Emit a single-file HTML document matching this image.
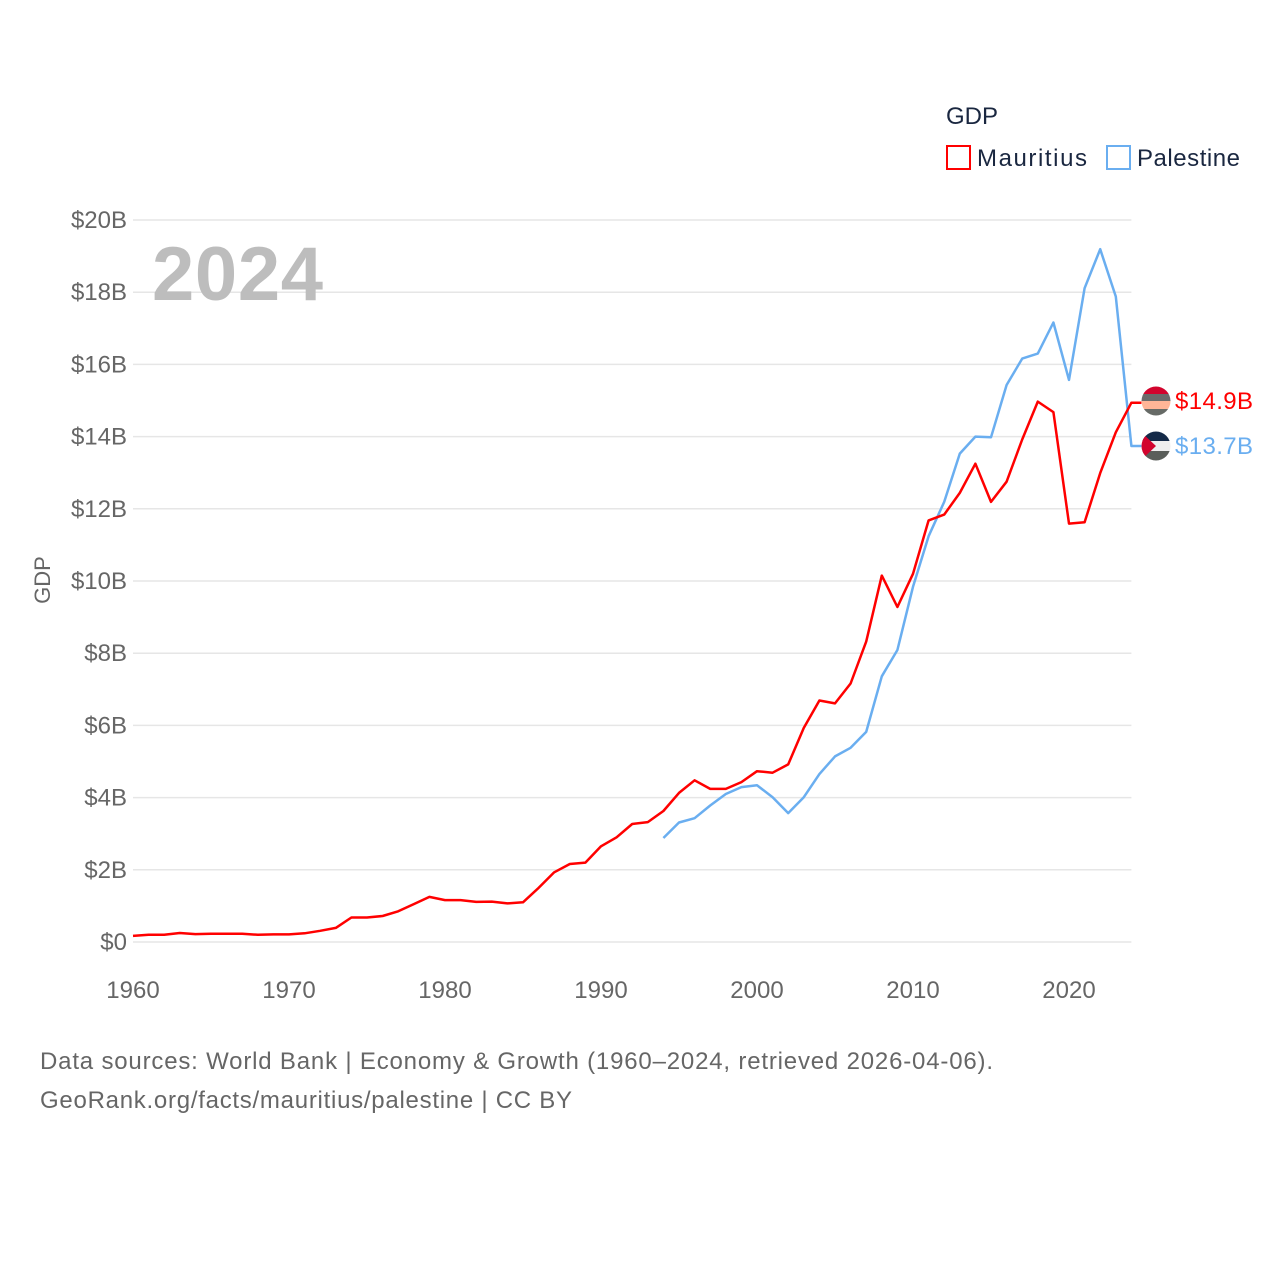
<!DOCTYPE html>
<html><head><meta charset="utf-8">
<style>
body{margin:0;background:#fff;}
svg text{font-family:"Liberation Sans",sans-serif;}
</style></head>
<body>
<svg id="chart" width="1280" height="1280" xmlns="http://www.w3.org/2000/svg">
<rect width="1280" height="1280" fill="#fff"/>
<g id="grid"></g>
<g id="yticks"></g>
<g id="xticks"></g>
<text x="152" y="300" font-size="76" font-weight="bold" fill="#bdbdbd" textLength="171">2024</text>
<text transform="translate(50,580) rotate(-90)" text-anchor="middle" font-size="22" fill="#666">GDP</text>
<g id="series"></g>
<g>
<text x="946" y="124" font-size="24" fill="#1a2740">GDP</text>
<rect x="947" y="146" width="23" height="23" fill="#fff" stroke="#ff0000" stroke-width="2"/>
<text x="977" y="166" font-size="24" fill="#1a2740" textLength="110">Mauritius</text>
<rect x="1107" y="146" width="23" height="23" fill="#fff" stroke="#6aaef0" stroke-width="2"/>
<text x="1137" y="166" font-size="24" fill="#1a2740" textLength="103">Palestine</text>
</g>
<g>
<clipPath id="c1"><circle cx="1156" cy="401" r="14.5"/></clipPath>
<g clip-path="url(#c1)">
<rect x="1140" y="386" width="32" height="8" fill="#d2042d"/>
<rect x="1140" y="394" width="32" height="7" fill="#6a6a6a"/>
<rect x="1140" y="401" width="32" height="8" fill="#ffb597"/>
<rect x="1140" y="409" width="32" height="8" fill="#666a66"/>
</g></g>
<g>
<clipPath id="c2"><circle cx="1156" cy="446" r="14.5"/></clipPath>
<g clip-path="url(#c2)">
<rect x="1140" y="431" width="32" height="10" fill="#142a48"/>
<rect x="1140" y="441" width="32" height="10" fill="#eeeeee"/>
<rect x="1140" y="451" width="32" height="11" fill="#5a5e5a"/>
<polygon points="1140,431 1156,446 1140,461" fill="#d2042d"/>
</g></g>
<text x="1175" y="409" font-size="24" fill="#ff0000" textLength="78">$14.9B</text>
<text x="1175" y="454" font-size="24" fill="#6aaef0" textLength="78">$13.7B</text>
<text x="40" y="1069" font-size="24" fill="#666" textLength="953">Data sources: World Bank | Economy &amp; Growth (1960–2024, retrieved 2026-04-06).</text>
<text x="40" y="1108" font-size="24" fill="#666" textLength="532">GeoRank.org/facts/mauritius/palestine | CC BY</text>
</svg>
<script>
const yTicks=[0,2,4,6,8,10,12,14,16,18,20];
const yTickLabels=["$0","$2B","$4B","$6B","$8B","$10B","$12B","$14B","$16B","$18B","$20B"];
const xTicks=[1960,1970,1980,1990,2000,2010,2020];
const mauritiusStart=1960;
const mauritius=[0.17,0.2,0.2,0.25,0.22,0.23,0.23,0.23,0.2,0.21,0.21,0.24,0.31,0.39,0.68,0.68,0.72,0.85,1.05,1.25,1.16,1.16,1.11,1.12,1.07,1.1,1.5,1.93,2.16,2.2,2.65,2.9,3.27,3.32,3.63,4.13,4.48,4.24,4.24,4.43,4.73,4.69,4.92,5.93,6.69,6.61,7.16,8.32,10.15,9.28,10.2,11.68,11.84,12.44,13.25,12.19,12.75,13.92,14.97,14.68,11.59,11.63,12.99,14.12,14.94];
const palestineStart=1994;
const palestine=[2.88,3.31,3.43,3.78,4.1,4.29,4.34,4.01,3.57,4.01,4.65,5.14,5.38,5.82,7.36,8.09,9.84,11.24,12.19,13.53,14.0,13.98,15.43,16.16,16.3,17.16,15.57,18.11,19.19,17.88,13.74];
const X0=133,X1=1131.4,Y0=942,Y1=220;
const xs=yr=>X0+(yr-1960)*(X1-X0)/64;
const ys=v=>Y0-v*(Y0-Y1)/20;
const NS="http://www.w3.org/2000/svg";
function mk(tag,attrs,parent){const e=document.createElementNS(NS,tag);for(const k in attrs)e.setAttribute(k,attrs[k]);parent.appendChild(e);return e;}
const grid=document.getElementById('grid'),yt=document.getElementById('yticks'),xt=document.getElementById('xticks'),ser=document.getElementById('series');
yTicks.forEach((v,i)=>{
  const l=mk('line',{x1:X0,x2:X1,y1:ys(v),y2:ys(v),stroke:'#e6e6e6','stroke-width':1.5},grid);
  
  
  const t=mk('text',{x:127,y:ys(v)+8,'text-anchor':'end','font-size':24,fill:'#666'},yt);
  
  
  t.textContent=yTickLabels[i];
});
xTicks.forEach(v=>{
  const t=mk('text',{x:xs(v),y:998,'text-anchor':'middle','font-size':24,fill:'#666'},xt);
  
  
  t.textContent=v;
});
function line(data,start,color,name){
  const pts=data.map((v,i)=>xs(start+i).toFixed(1)+','+ys(v).toFixed(1));
  const last=data[data.length-1];
  pts.push((X1+10)+','+ys(last).toFixed(1));
  const p=mk('polyline',{points:pts.join(' '),fill:'none',stroke:color,'stroke-width':2.5,'stroke-linejoin':'round'},ser);
  
  
}
line(palestine,palestineStart,'#6aaef0','palestine-line');
line(mauritius,mauritiusStart,'#ff0000','mauritius-line');
</script>
</body></html>
